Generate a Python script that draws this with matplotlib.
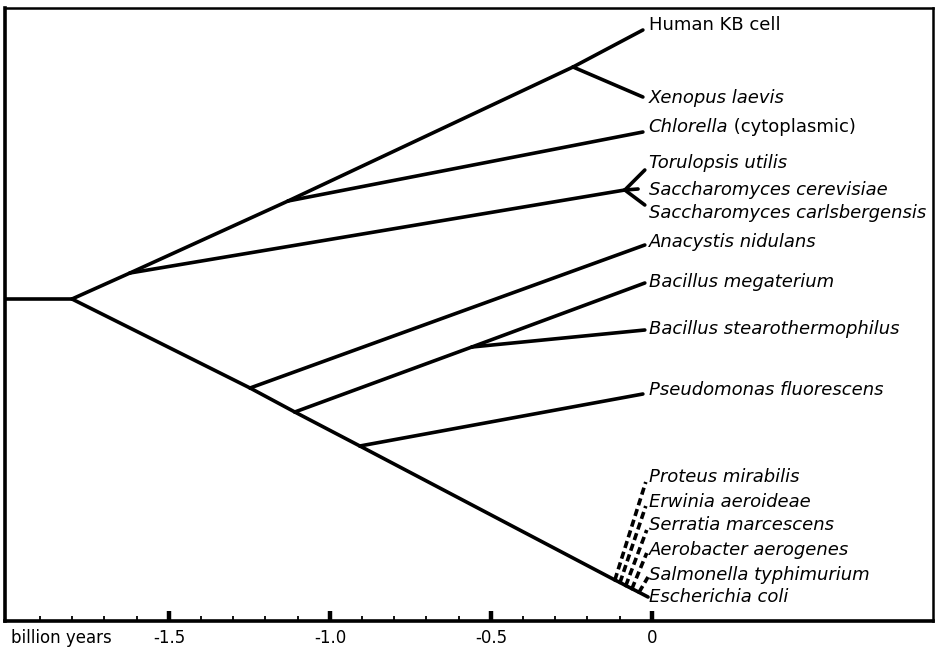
import matplotlib
matplotlib.use("Agg")
import matplotlib.pyplot as plt
from matplotlib.ticker import FixedLocator, FixedFormatter

# ---------------- data ----------------
# x: time in billion years, y: vertical layout row (top = small)
node_names = ["base", "root", "euk", "chlorella_split", "xenopus_split",
              "yeast_split", "anacystis_split", "bacillus_split",
              "stearo_split", "pseudomonas_split", "proteus_split",
              "erwinia_split", "serratia_split", "aerobacter_split",
              "salmonella_split"]
node_time = [-2.01, -1.801, -1.621, -1.130, -0.245, -0.084, -1.248, -1.109,
             -0.559, -0.907, -0.115, -0.099, -0.081, -0.062, -0.040]
node_row = [299, 299, 273, 201, 67, 190, 388, 412, 347, 446,
            580, 582.5, 585.6, 588.7, 592.3]

edge_parent = ["base", "root", "euk", "chlorella_split", "euk", "root",
               "anacystis_split", "bacillus_split", "bacillus_split",
               "pseudomonas_split", "proteus_split", "erwinia_split",
               "serratia_split", "aerobacter_split"]
edge_child = ["root", "euk", "chlorella_split", "xenopus_split", "yeast_split",
              "anacystis_split", "bacillus_split", "stearo_split",
              "pseudomonas_split", "proteus_split", "erwinia_split",
              "serratia_split", "aerobacter_split", "salmonella_split"]

tip_labels = ["Human KB cell", "Xenopus laevis", "Chlorella",
              "Torulopsis utilis", "Saccharomyces cerevisiae",
              "Saccharomyces carlsbergensis", "Anacystis nidulans",
              "Bacillus megaterium", "Bacillus stearothermophilus",
              "Pseudomonas fluorescens", "Proteus mirabilis",
              "Erwinia aeroideae", "Serratia marcescens",
              "Aerobacter aerogenes", "Salmonella typhimurium",
              "Escherichia coli"]
tip_parent = ["xenopus_split", "xenopus_split", "chlorella_split",
              "yeast_split", "yeast_split", "yeast_split", "anacystis_split",
              "stearo_split", "stearo_split", "pseudomonas_split",
              "proteus_split", "erwinia_split", "serratia_split",
              "aerobacter_split", "salmonella_split", "salmonella_split"]
tip_time = [-0.028, -0.028, -0.028, -0.022, -0.043, -0.022, -0.022, -0.022,
            -0.022, -0.028, -0.019, -0.019, -0.016, -0.016, -0.012, -0.012]
tip_row = [30, 97, 132, 170, 189, 205, 245, 283, 330, 394,
           482, 506, 530, 553, 577, 597]
tip_dashed = [False] * 10 + [True] * 5 + [False]
tip_italic = [False] + [True] * 15
chlorella_suffix = "(cytoplasmic)"

x_major = [-1.5, -1.0, -0.5, 0.0]
x_major_labels = ["-1.5", "-1.0", "-0.5", "0"]
x_minor = [-1.9, -1.8, -1.7, -1.6, -1.4, -1.3, -1.2, -1.1,
           -0.9, -0.8, -0.7, -0.6, -0.4, -0.3, -0.2, -0.1]
axis_title = "billion years"

# ---------------- layout ----------------
label_row = [25, 98, 127, 163, 190, 213, 242, 282, 329, 390,
             477, 502, 525, 550, 575, 597]
label_time = -0.010

plt.rcParams['font.family'] = ['DejaVu Sans']
fig = plt.figure(figsize=(9.35, 6.54), dpi=100)
ax = fig.add_axes([5 / 935, 1 - 621 / 654, 928 / 935, 613 / 654])
ax.set_xlim(-2.009, 0.873)
ax.set_ylim(621, 8)

pos = {n: (t, r) for n, t, r in zip(node_names, node_time, node_row)}
LW = 2.6
for p, c in zip(edge_parent, edge_child):
    (x0, y0), (x1, y1) = pos[p], pos[c]
    ax.plot([x0, x1], [y0, y1], color="black", lw=LW,
            solid_capstyle="round", zorder=3)

for i, lab in enumerate(tip_labels):
    x0, y0 = pos[tip_parent[i]]
    if tip_dashed[i]:
        ax.plot([x0, tip_time[i]], [y0, tip_row[i]], color="black", lw=2.6,
                linestyle=(0, (2.0, 1.1)), dash_capstyle="butt", zorder=3)
    else:
        ax.plot([x0, tip_time[i]], [y0, tip_row[i]], color="black", lw=LW,
                solid_capstyle="round", zorder=3)
    t = ax.text(label_time, label_row[i], lab, fontsize=13,
                style="italic" if tip_italic[i] else "normal",
                ha="left", va="center", color="black")
    if lab == "Chlorella":
        ax.annotate(" " + chlorella_suffix, xy=(1, 0.5), xycoords=t,
                    fontsize=13, ha="left", va="center", color="black")

# frame & axis
for s in ["left", "top", "right", "bottom"]:
    ax.spines[s].set_color("black")
ax.spines["left"].set_linewidth(2.6)
ax.spines["bottom"].set_linewidth(2.6)
ax.spines["top"].set_linewidth(1.8)
ax.spines["right"].set_linewidth(1.8)

ax.xaxis.set_major_locator(FixedLocator(x_major))
ax.xaxis.set_major_formatter(FixedFormatter(x_major_labels))
ax.xaxis.set_minor_locator(FixedLocator(x_minor))
ax.tick_params(axis="x", which="major", direction="in", length=7, width=3.2,
               labelsize=12, pad=6, color="black")
ax.tick_params(axis="x", which="minor", direction="in", length=3.5, width=1.3,
               color="black")
ax.set_yticks([])
ax.annotate(axis_title, xy=(-1.99, 0), xycoords=ax.get_xaxis_transform(),
            xytext=(0, -6), textcoords="offset points",
            ha="left", va="top", fontsize=12)

fig.savefig("out.png", dpi=100)
